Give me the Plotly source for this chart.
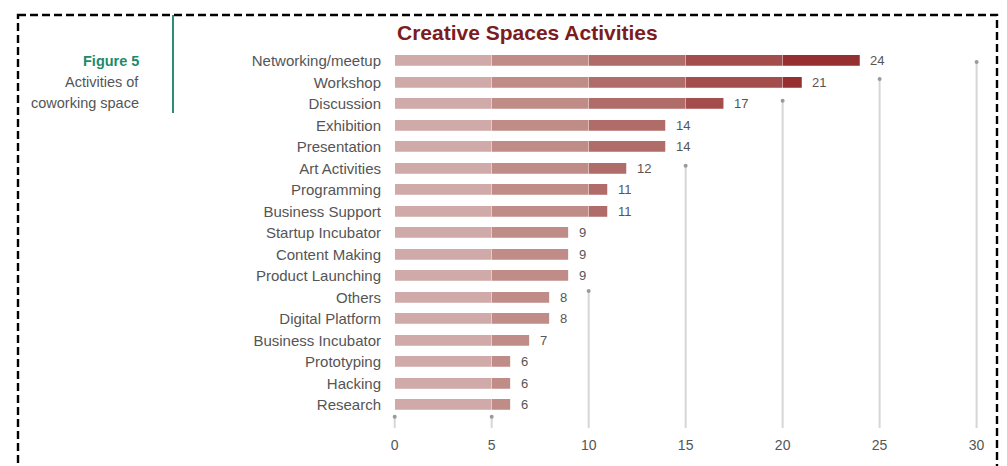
import plotly.graph_objects as go

# Activities reported by creative / coworking spaces
activities = [
    "Networking/meetup", "Workshop", "Discussion", "Exhibition", "Presentation",
    "Art Activities", "Programming", "Business Support", "Startup Incubator",
    "Content Making", "Product Launching", "Others", "Digital Platform",
    "Business Incubator", "Prototyping", "Hacking", "Research",
]
counts = [24, 21, 17, 14, 14, 12, 11, 11, 9, 9, 9, 8, 8, 7, 6, 6, 6]

# Each bar is split into 5-unit bands, getting darker further out
band_size = 5
band_colors = ["#d0aaa8", "#c08c88", "#b06c68", "#a34e4c", "#962f2f"]

# Reference lines: x value and the row where each line's top dot sits
grid_x = [0, 5, 10, 15, 20, 25, 30]
grid_top_row = [16.55, 16.55, 10.7, 4.88, 1.86, 0.84, 0.05]
grid_bottom_row = 17.07
tick_vals = [0, 5, 10, 15, 20, 25, 30]

rows = list(range(len(activities)))
FONT = "Liberation Sans, Arial, sans-serif"
TEXT_GREY = "#555555"

fig = go.Figure()

# lollipop-style vertical guide lines
for gx, top in zip(grid_x, grid_top_row):
    fig.add_trace(go.Scatter(
        x=[gx, gx], y=[grid_bottom_row, top], mode="lines",
        line=dict(color="#d6d6d6", width=2), hoverinfo="skip", showlegend=False,
    ))
    fig.add_trace(go.Scatter(
        x=[gx], y=[top], mode="markers",
        marker=dict(color="#9a9a9a", size=4), hoverinfo="skip", showlegend=False,
    ))

# stacked bands forming each bar
for k, color in enumerate(band_colors):
    seg = [min(max(v - k * band_size, 0), band_size) for v in counts]
    fig.add_trace(go.Bar(
        x=seg, y=rows, orientation="h", width=0.52,
        marker=dict(color=color, line=dict(color="rgba(255,255,255,0.3)", width=0.8)),
        hoverinfo="skip", showlegend=False,
    ))

annotations = []
for r, v in zip(rows, counts):
    annotations.append(dict(
        x=v, y=r, xref="x", yref="y", text=str(v), showarrow=False,
        xanchor="left", xshift=8, font=dict(family=FONT, size=13, color=TEXT_GREY),
    ))

# chart title
annotations.append(dict(
    x=395, y=33, xref="paper", yref="paper", text="<b>Creative Spaces Activities</b>",
    showarrow=False, xanchor="left", yanchor="middle",
    font=dict(family=FONT, size=21, color="#7b1c22"),
))

fig.update_layout(
    width=1007, height=466,
    margin=dict(l=385, r=11, t=20, b=31, autoexpand=False),
    paper_bgcolor="white", plot_bgcolor="white",
    barmode="stack", bargap=0,
    font=dict(family=FONT, color=TEXT_GREY),
    xaxis=dict(
        range=[-0.5, 31], tickvals=tick_vals, showgrid=False, zeroline=False,
        showline=False, ticks="", tickfont=dict(size=14, color=TEXT_GREY),
        fixedrange=True,
    ),
    yaxis=dict(
        range=[17.4, -1.9], tickvals=rows, ticktext=activities, showgrid=False,
        zeroline=False, showline=False, ticks="", ticklabelstandoff=3,
        tickfont=dict(size=15, color=TEXT_GREY), fixedrange=True,
    ),
    showlegend=False,
)

# annotations / shapes positioned in pixels via paper coords
W, H = 1007, 466
pl, pr, pt, pb = 385, 11, 20, 31
pw, ph = W - pl - pr, H - pt - pb


def px_x(x):
    return (x - pl) / pw


def px_y(y):
    return 1 - (y - pt) / ph


for a in annotations:
    if a.get("xref") == "paper":
        a["x"] = px_x(a["x"])
        a["y"] = px_y(a["y"])

side_notes = [
    ("<b>Figure 5</b>", 61, "#1d8a6c"),
    ("Activities of", 82, TEXT_GREY),
    ("coworking space", 103, TEXT_GREY),
]
for txt, yy, col in side_notes:
    annotations.append(dict(
        x=px_x(141), y=px_y(yy), xref="paper", yref="paper", text=txt,
        showarrow=False, xanchor="right", yanchor="middle",
        font=dict(family=FONT, size=14.5, color=col),
    ))

fig.update_layout(annotations=annotations)

shapes = [
    # teal rule beside the figure caption
    dict(type="line", xref="paper", yref="paper",
         x0=px_x(173), x1=px_x(173), y0=px_y(15), y1=px_y(113),
         line=dict(color="#2b8c79", width=2)),
    # dashed frame around the whole figure
    dict(type="rect", xref="paper", yref="paper",
         x0=px_x(18), x1=px_x(997), y0=px_y(15), y1=px_y(490),
         line=dict(color="black", width=2.4, dash="8px,4px"), layer="above"),
]
fig.update_layout(shapes=shapes)

fig.write_html("out.html")
